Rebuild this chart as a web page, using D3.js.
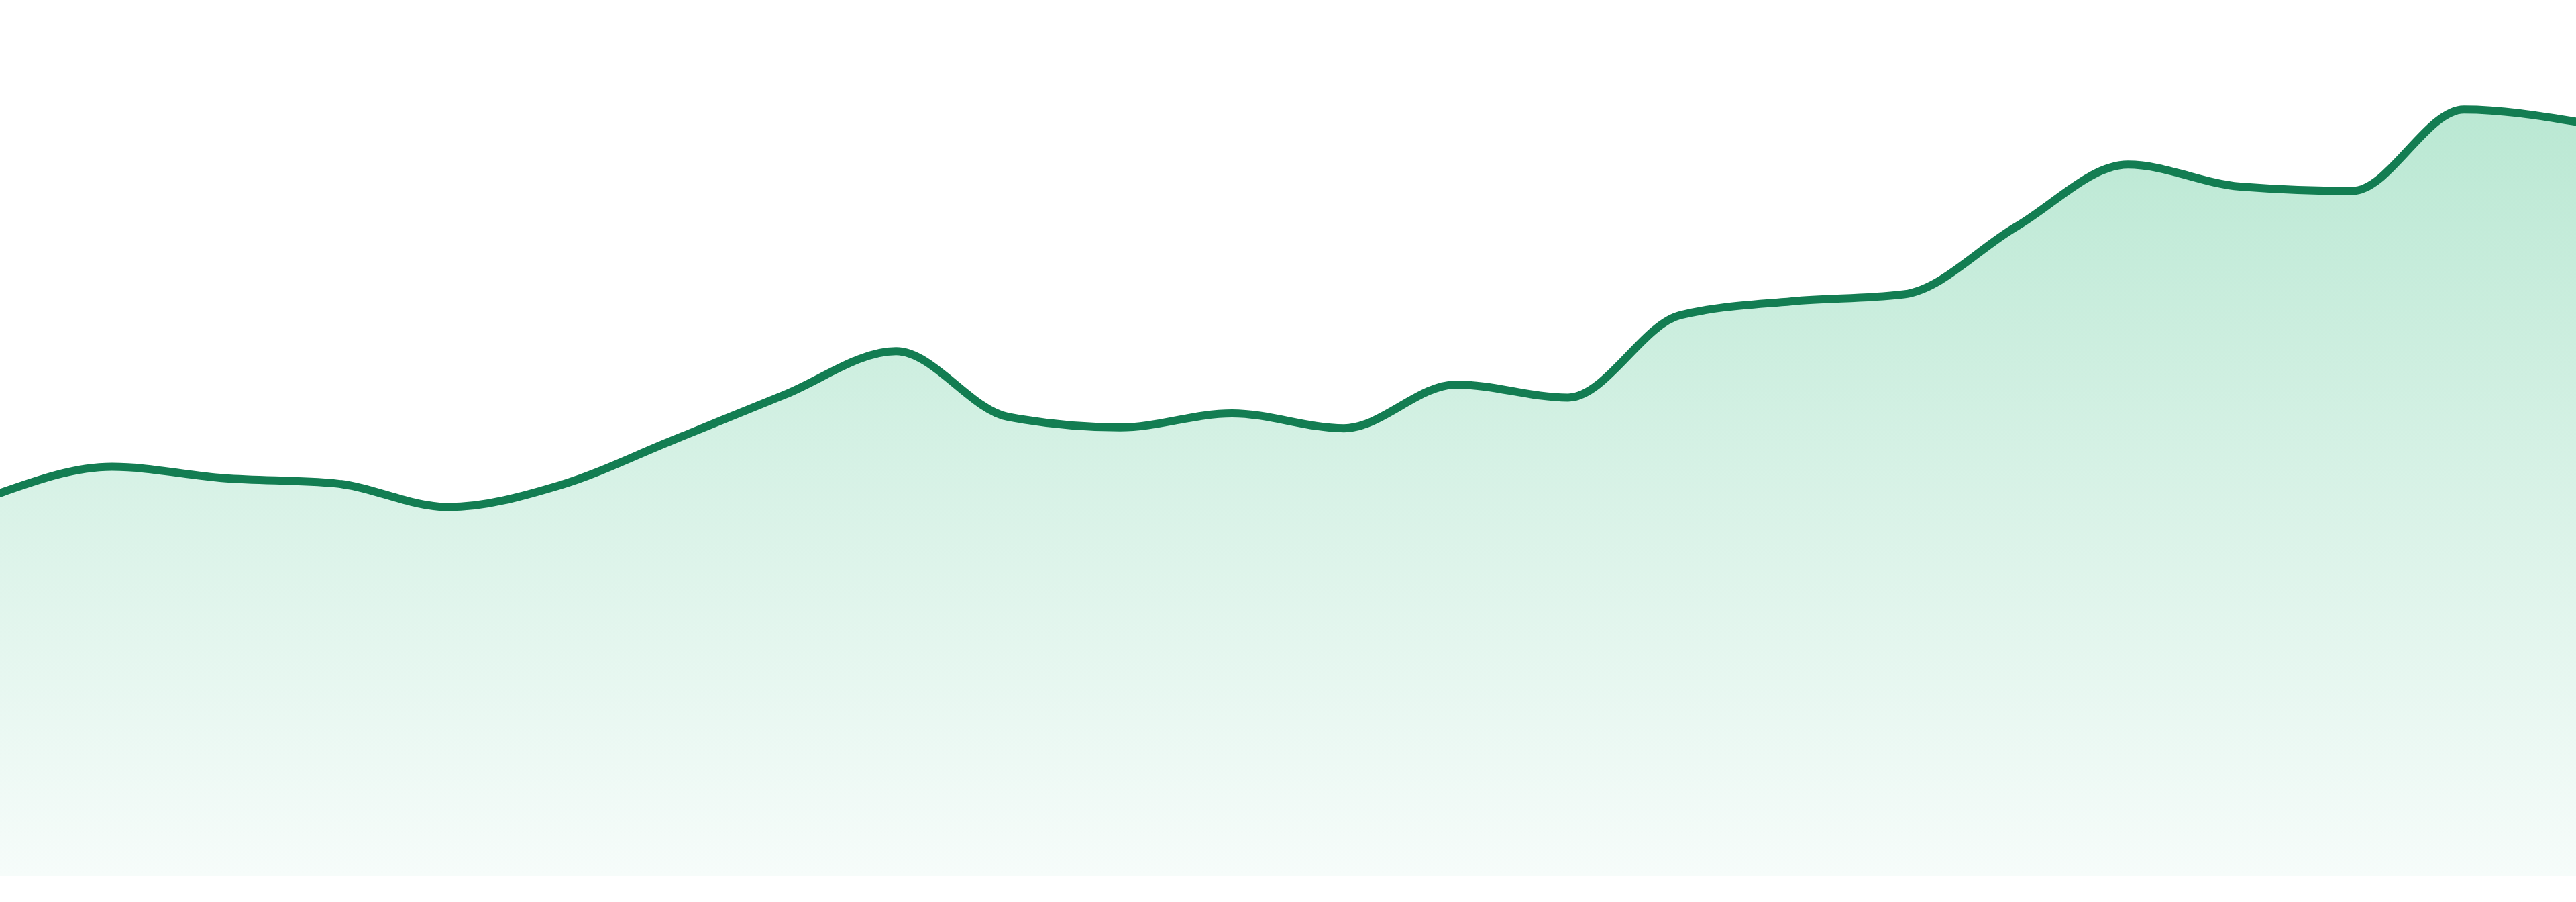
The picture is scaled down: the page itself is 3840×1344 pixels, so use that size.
<!DOCTYPE html>
<html>
<head>
<meta charset="utf-8">
<script src="https://cdn.jsdelivr.net/npm/d3@7"></script>
<style>
  html, body { margin: 0; padding: 0; background: #ffffff; overflow: hidden; }
  svg { display: block; }
</style>
</head>
<body>
<script>
// Data
const categories = ["1","2","3","4","5","6","7","8","9","10","11","12",
                    "13","14","15","16","17","18","19","20","21","22","23","24"];
const values = [43.7, 46.7, 45.4, 44.8, 42.1, 44.6, 49.7, 54.9, 59.9, 52.4, 51.2, 52.8,
                51.1, 56.1, 54.6, 64.0, 65.6, 66.4, 74.1, 81.2, 78.7, 78.2, 87.5, 86.1];
const yDomain = [0, 100];

const W = 3840, H = 1344;
const baseY = 1305;

const svg = d3.select("body").append("svg")
  .attr("width", W).attr("height", H)
  .attr("viewBox", `0 0 ${W} ${H}`);

const x = d3.scalePoint().domain(categories).range([0, W]).padding(0);
const y = d3.scaleLinear().domain(yDomain).range([baseY, 0]);

const data = categories.map((c, i) => ({ c, v: values[i] }));

const defs = svg.append("defs");
const grad = defs.append("linearGradient")
  .attr("id", "fillGrad")
  .attr("gradientUnits", "userSpaceOnUse")
  .attr("x1", 0).attr("y1", y(d3.max(values)))
  .attr("x2", 0).attr("y2", baseY);
grad.append("stop").attr("offset", "0%").attr("stop-color", "#bae8d3");
grad.append("stop").attr("offset", "100%").attr("stop-color", "#f6fcfa");

const area = d3.area()
  .x(d => x(d.c))
  .y0(y(0))
  .y1(d => y(d.v))
  .curve(d3.curveMonotoneX);

const line = d3.line()
  .x(d => x(d.c))
  .y(d => y(d.v))
  .curve(d3.curveMonotoneX);

svg.append("path")
  .datum(data)
  .attr("d", area)
  .attr("fill", "url(#fillGrad)");

svg.append("path")
  .datum(data)
  .attr("d", line)
  .attr("fill", "none")
  .attr("stroke", "#137d52")
  .attr("stroke-width", 12)
  .attr("stroke-linejoin", "round")
  .attr("stroke-linecap", "round");
</script>
</body>
</html>
